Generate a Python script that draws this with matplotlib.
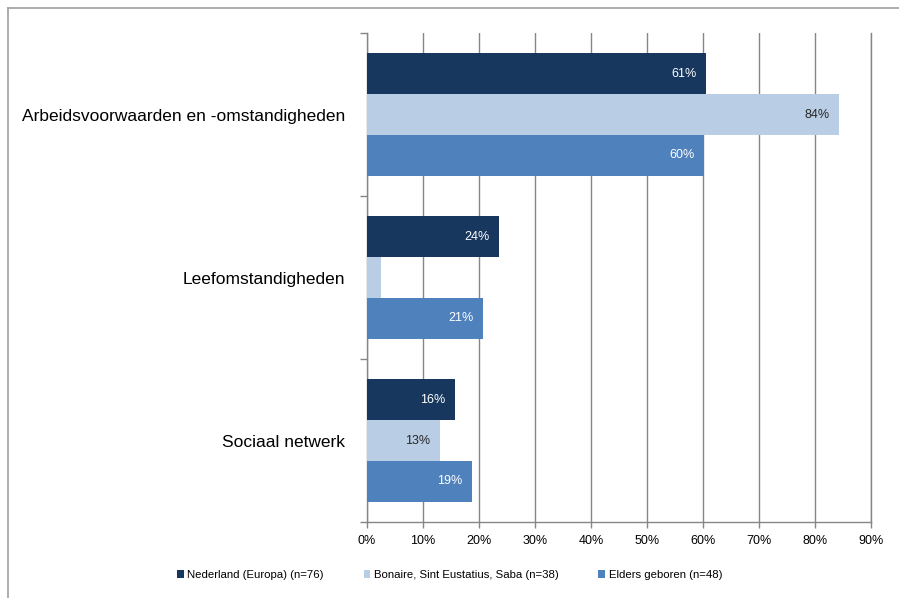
import matplotlib

matplotlib.use("Agg")

import matplotlib.pyplot as plt  # noqa: E402
import numpy as np  # noqa: E402
from matplotlib.lines import Line2D  # noqa: E402
from matplotlib.patches import Patch  # noqa: E402

plt.rcParams["font.family"] = ["Liberation Sans", "DejaVu Sans"]

categories = ["Arbeidsvoorwaarden en -omstandigheden", "Leefomstandigheden", "Sociaal netwerk"]
series = ["Nederland (Europa) (n=76)", "Bonaire, Sint Eustatius, Saba (n=38)", "Elders geboren (n=48)"]
nederland = [60.6, 23.6, 15.7]
bes = [84.3, 2.5, 13.0]
elders = [60.2, 20.7, 18.8]
shown_labels = [["61%", "24%", "16%"], ["84%", "", "13%"], ["60%", "21%", "19%"]]
xticks = [0, 10, 20, 30, 40, 50, 60, 70, 80, 90]

colors = ["#17375E", "#B9CDE5", "#4F81BD"]
label_colors = ["white", "#262626", "white"]
grey = "#868686"

fig = plt.figure(figsize=(8.99, 5.98), dpi=100)
ax = fig.add_axes([367 / 899, 1 - 522 / 598, (871 - 367) / 899, (522 - 33) / 598])

y = np.arange(len(categories))
h = 0.25
for i, (vals, col) in enumerate(zip([nederland, bes, elders], colors)):
    pos = y + (i - 1) * h
    bars = ax.barh(pos, vals, height=h, color=col, zorder=3, label=series[i])
    for b, txt in zip(bars, shown_labels[i]):
        if txt:
            ax.annotate(txt, (b.get_width(), b.get_y() + b.get_height() / 2),
                        xytext=(-7, 0), textcoords="offset points", ha="right", va="center",
                        fontsize=9, color=label_colors[i], zorder=4)

ax.set_xlim(0, 90)
ax.set_ylim(2.5, -0.5)
ax.set_xticks(xticks)
ax.set_xticklabels([f"{t}%" for t in xticks], fontsize=9)
ax.set_yticks(y)
ax.set_yticklabels(categories, fontsize=12.5)
ax.set_yticks([-0.5, 0.5, 1.5, 2.5], minor=True)
ax.tick_params(axis="y", which="major", length=0, pad=16)
ax.tick_params(axis="y", which="minor", length=5, color=grey, width=1)
ax.tick_params(axis="x", length=4, color=grey, width=1, pad=5)
ax.grid(axis="x", color=grey, linewidth=1, zorder=0)
ax.spines["top"].set_visible(False)
for s in ["left", "bottom", "right"]:
    ax.spines[s].set_color(grey)
    ax.spines[s].set_linewidth(1)

handles = [Patch(facecolor=c, label=s) for c, s in zip(colors, series)]
fig.legend(handles=handles, loc="center", bbox_to_anchor=(0.5, 1 - 575 / 598), ncol=3,
           frameon=False, fontsize=8.2, handlelength=0.6, handleheight=0.6,
           handletextpad=0.3, columnspacing=3.5)

# outer chart frame (only top and left visible in the crop)
fig.add_artist(Line2D([8 / 899, 8 / 899], [0, 1 - 8 / 598], color="#a0a0a0", linewidth=1.2,
                      transform=fig.transFigure))
fig.add_artist(Line2D([8 / 899, 1], [1 - 8 / 598, 1 - 8 / 598], color="#a0a0a0", linewidth=1.2,
                      transform=fig.transFigure))

fig.savefig("out.png", dpi=100)
